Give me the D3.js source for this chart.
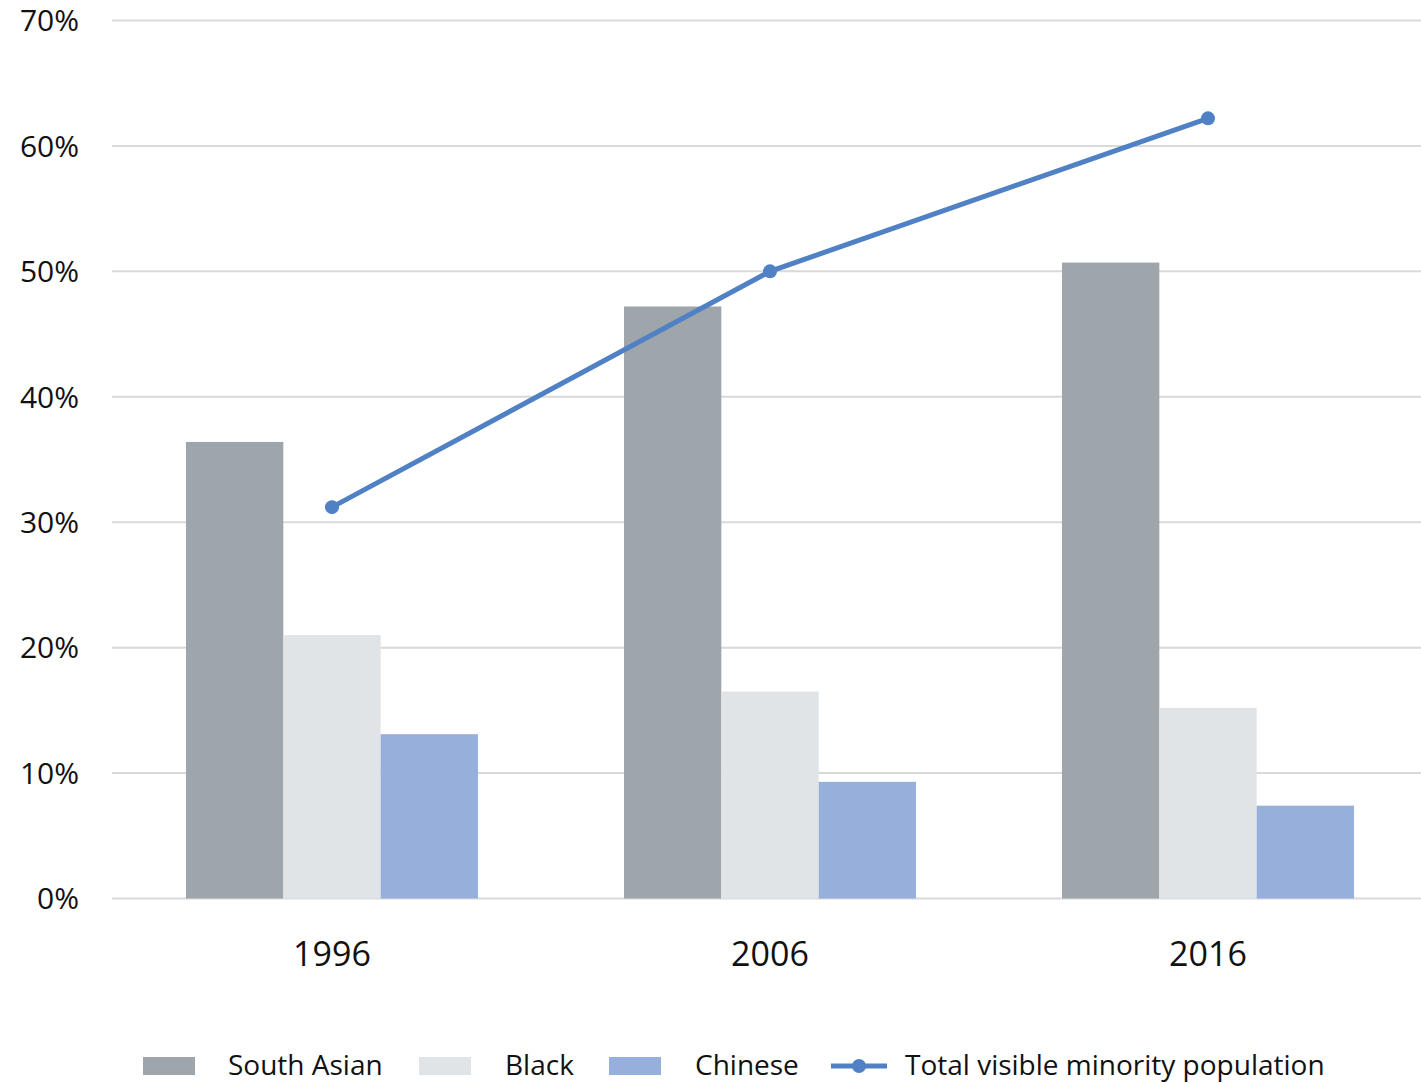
<!DOCTYPE html>
<html lang="en">
<head>
<meta charset="UTF-8">
<title>Visible minority population</title>
<script src="https://cdnjs.cloudflare.com/ajax/libs/d3/7.8.5/d3.min.js"></script>
<style>
    body { margin: 0; background: #fff; font-family: "Open Sans", sans-serif; }
    .grid line { stroke: #d9d9d9; stroke-width: 2; }
</style>
</head>
<body>
<svg id="chart" width="1421" height="1083"></svg>
<script>
    const years = ['1996', '2006', '2016'];
    const groups = ['South Asian', 'Black', 'Chinese'];
    const southAsian = [36.4, 47.2, 50.7];
    const black = [21.0, 16.5, 15.2];
    const chinese = [13.1, 9.3, 7.4];
    const totalVisible = [31.2, 50.0, 62.2];
    const yTicks = [0, 10, 20, 30, 40, 50, 60, 70];
    const colors = ['#9ea6ab', '#e0e4e7', '#97afdb'];
    const lineColor = '#4f81c4';

    const series = [southAsian, black, chinese];
    const svg = d3.select('#chart');

    const x = d3.scaleBand().domain(years).range([113, 1427]);
    const xInner = d3.scaleBand().domain(groups)
        .range([x.bandwidth() / 6, x.bandwidth() * 5 / 6]);
    const y = d3.scaleLinear().domain([0, 70]).range([898.5, 20.5]);

    // gridlines
    svg.append('g').attr('class', 'grid')
        .selectAll('line').data(yTicks).enter().append('line')
        .attr('x1', 112).attr('x2', 1421)
        .attr('y1', d => y(d)).attr('y2', d => y(d));

    // y labels
    svg.append('g').selectAll('text').data(yTicks).enter().append('text')
        .attr('x', 79).attr('y', d => y(d)).attr('dy', '0.36em')
        .attr('text-anchor', 'end').attr('font-size', 30).attr('fill', '#111')
        .text(d => d + '%');

    // bars
    const yearG = svg.append('g').selectAll('g').data(years).enter().append('g')
        .attr('transform', d => `translate(${x(d)},0)`);
    yearG.selectAll('rect')
        .data((d, i) => groups.map((g, k) => ({ g, v: series[k][i], k })))
        .enter().append('rect')
        .attr('x', d => xInner(d.g)).attr('width', xInner.bandwidth())
        .attr('y', d => y(d.v)).attr('height', d => y(0) - y(d.v))
        .attr('fill', d => colors[d.k]);

    // x labels
    svg.append('g').selectAll('text').data(years).enter().append('text')
        .attr('x', d => x(d) + x.bandwidth() / 2).attr('y', 966)
        .attr('text-anchor', 'middle').attr('font-size', 34).attr('fill', '#111')
        .text(d => d);

    // line
    const line = d3.line().x((d, i) => x(years[i]) + x.bandwidth() / 2).y(d => y(d));
    svg.append('path').datum(totalVisible)
        .attr('d', line).attr('fill', 'none')
        .attr('stroke', lineColor).attr('stroke-width', 5);
    svg.append('g').selectAll('circle').data(totalVisible).enter().append('circle')
        .attr('cx', (d, i) => x(years[i]) + x.bandwidth() / 2).attr('cy', d => y(d))
        .attr('r', 7).attr('fill', lineColor);

    // legend
    const legend = svg.append('g');
    const legendItems = [
        { label: 'South Asian', sx: 143, tx: 228, c: colors[0] },
        { label: 'Black', sx: 419, tx: 505, c: colors[1] },
        { label: 'Chinese', sx: 609, tx: 695, c: colors[2] }
    ];
    legendItems.forEach(d => {
        legend.append('rect').attr('x', d.sx).attr('y', 1057)
            .attr('width', 52).attr('height', 18).attr('fill', d.c);
        legend.append('text').attr('x', d.tx).attr('y', 1075)
            .attr('font-size', 28).attr('fill', '#111').text(d.label);
    });
    legend.append('line').attr('x1', 831).attr('x2', 887)
        .attr('y1', 1066).attr('y2', 1066)
        .attr('stroke', lineColor).attr('stroke-width', 5);
    legend.append('circle').attr('cx', 859).attr('cy', 1066).attr('r', 7).attr('fill', lineColor);
    legend.append('text').attr('x', 905).attr('y', 1075)
        .attr('font-size', 28).attr('fill', '#111').text('Total visible minority population');
</script>
</body>
</html>
